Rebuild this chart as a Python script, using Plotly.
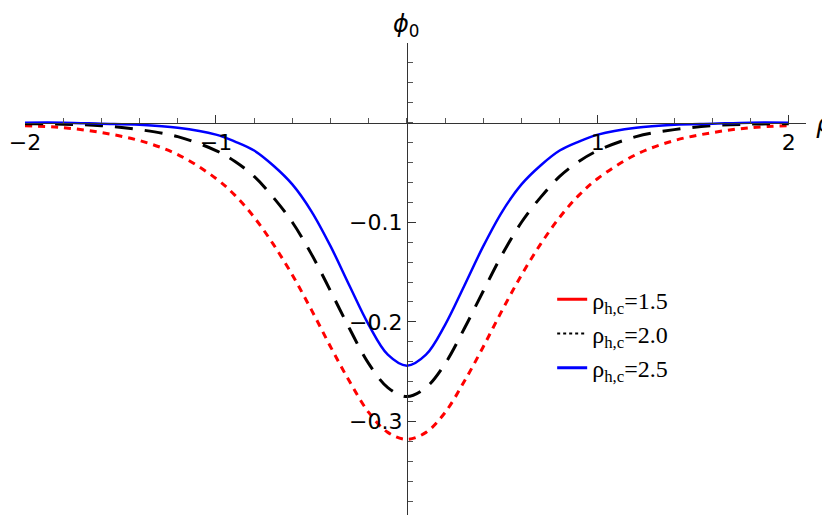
import plotly.graph_objects as go

# half-curves (rho <= 0), mirrored for rho > 0
rho_half = [-2.0, -1.8, -1.6, -1.4, -1.2, -1.0, -0.9, -0.8, -0.7, -0.6, -0.5, -0.4, -0.3,
            -0.2, -0.1, 0.0]
phi_15 = [-0.003, -0.005, -0.010, -0.018, -0.032, -0.056, -0.073, -0.095, -0.122, -0.153,
          -0.188, -0.225, -0.260, -0.291, -0.311, -0.318]
phi_20 = [-0.001, -0.0015, -0.003, -0.007, -0.014, -0.028, -0.039, -0.054, -0.075, -0.100,
          -0.132, -0.169, -0.207, -0.242, -0.266, -0.275]
phi_25 = [0.0, 0.0, -0.001, -0.002, -0.005, -0.012, -0.019, -0.028, -0.043, -0.062,
          -0.089, -0.124, -0.164, -0.203, -0.233, -0.244]
labels = ["ρ<sub>h,c</sub>=1.5", "ρ<sub>h,c</sub>=2.0", "ρ<sub>h,c</sub>=2.5"]
colors = ["#ff0000", "#000000", "#0000ff"]


def mirror(xs, ys):
    return xs + [-v for v in reversed(xs[:-1])], ys + list(reversed(ys[:-1]))


fig = go.Figure()
styles = [dict(width=3, dash="7px,6px"), dict(width=3, dash="18px,12px"), dict(width=2.5, dash="solid")]
for ys, col, st in zip([phi_15, phi_20, phi_25], colors, styles):
    x, y = mirror(rho_half, ys)
    fig.add_trace(go.Scatter(x=x, y=y, mode="lines", line=dict(color=col, shape="spline", **st),
                             showlegend=False))

# legend entries
leg_dash = ["solid", "dot", "solid"]
for lab, col, d in zip(labels, colors, leg_dash):
    fig.add_trace(go.Scatter(x=[None], y=[None], mode="lines", name=lab,
                             line=dict(color=col, width=3 if d == "solid" else 2, dash=d)))

xr = [-2.0, 2.09]
yr = [-0.40, 0.08]
fig.update_layout(
    width=830, height=515, plot_bgcolor="white", paper_bgcolor="white",
    margin=dict(l=17, r=32, t=35, b=2, autoexpand=False),
    font=dict(family="DejaVu Sans", size=22, color="black"),
    legend=dict(x=0.675, y=0.51, xanchor="left", yanchor="top", bgcolor="rgba(0,0,0,0)",
                font=dict(family="Liberation Serif", size=24), tracegroupgap=0,
                itemwidth=30),
    xaxis=dict(range=xr, anchor="free", position=(0 - yr[0]) / (yr[1] - yr[0]),
               showgrid=False, zeroline=False, showline=True, linecolor="#333", linewidth=1,
               tickvals=[-2, -1, 1, 2], ticktext=["−2", "−1", "1", "2"],
               ticks="inside", ticklen=8, tickcolor="#333", automargin=False,
               minor=dict(dtick=0.2, ticks="inside", ticklen=5, tickcolor="#555")),
    yaxis=dict(range=yr, anchor="free", position=(0 - xr[0]) / (xr[1] - xr[0]),
               showgrid=False, zeroline=False, showline=True, linecolor="#333", linewidth=1,
               tickvals=[-0.3, -0.2, -0.1], ticktext=["−0.3", "−0.2", "−0.1"],
               ticks="inside", ticklen=8, tickcolor="#333", automargin=False,
               minor=dict(dtick=0.02, ticks="inside", ticklen=5, tickcolor="#555")),
    annotations=[
        dict(text="<i>ρ</i>", x=1.0, xref="paper", xshift=8, y=0, yref="y", xanchor="left",
             yanchor="middle", showarrow=False, font=dict(size=26)),
        dict(text="<i>ϕ</i><sub>0</sub>", x=0, xref="x", y=1.0, yref="paper", yshift=0,
             xanchor="center", yanchor="bottom", showarrow=False, font=dict(size=24)),
    ],
)

fig.write_html("out.html")
